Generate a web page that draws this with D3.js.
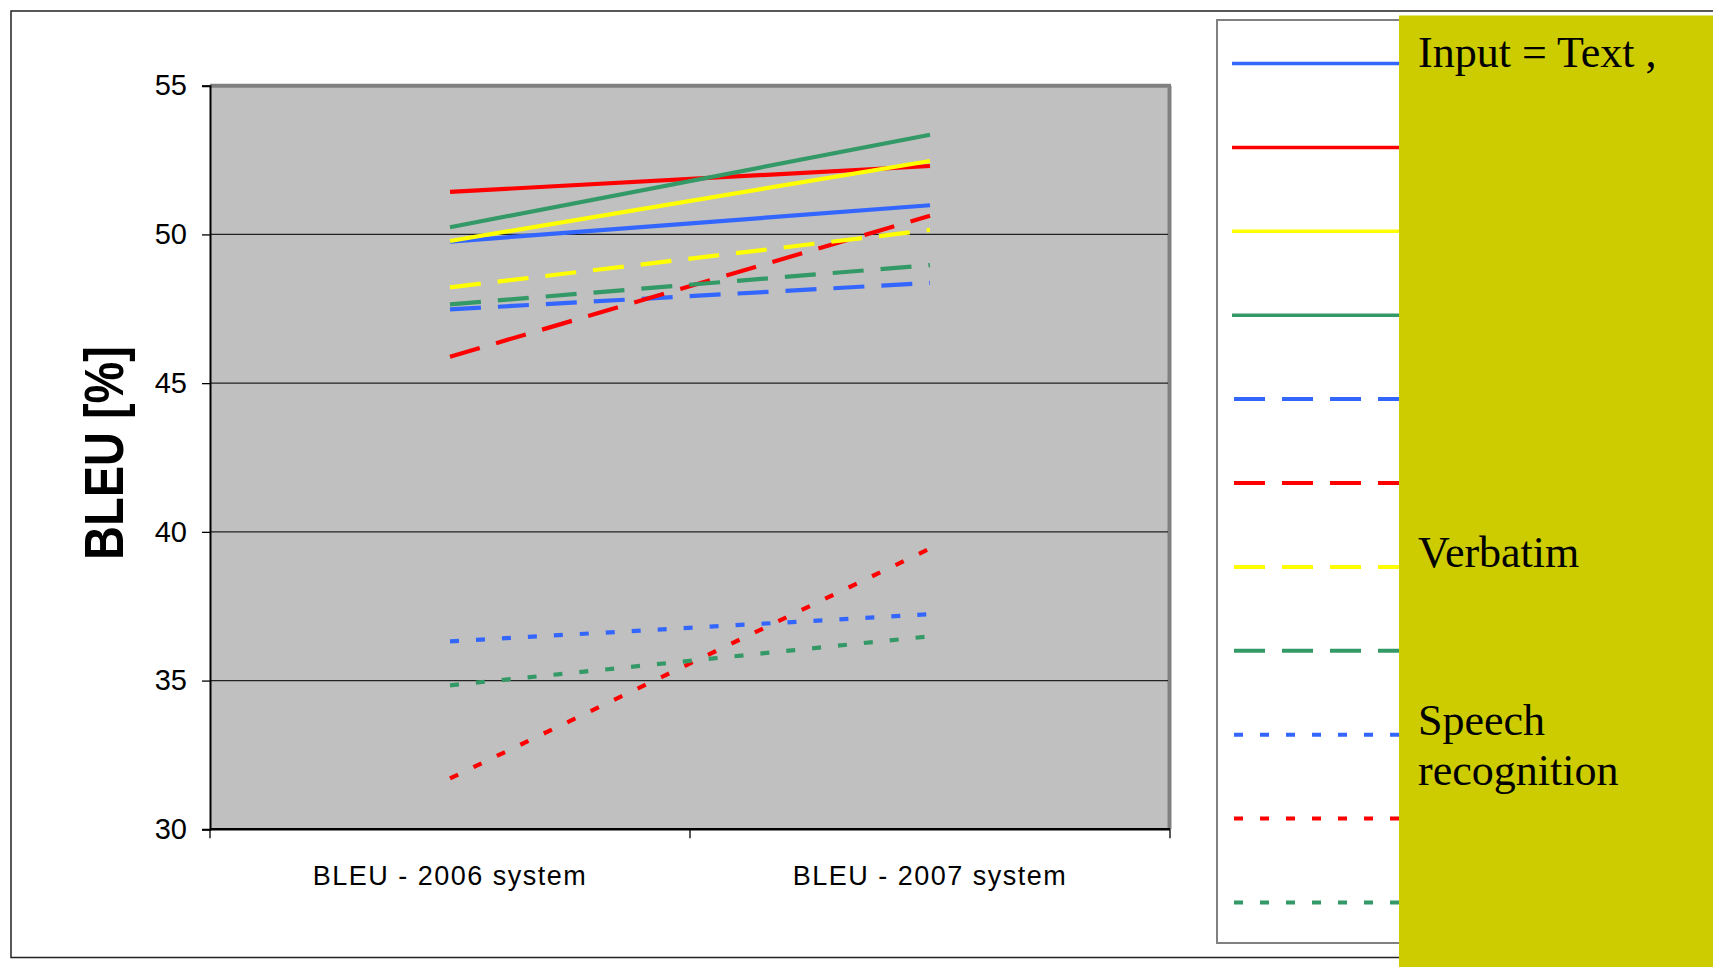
<!DOCTYPE html>
<html>
<head>
<meta charset="utf-8">
<script src="https://cdn.jsdelivr.net/npm/d3@7"></script>
<style>
  html, body { margin: 0; padding: 0; background: #fff; }
  svg { display: block; }
</style>
</head>
<body>
<svg id="chart" width="1713" height="967"></svg>
<script>
// ---- data ----
const categories = ["BLEU - 2006 system", "BLEU - 2007 system"];
const yTicks = [30, 35, 40, 45, 50, 55];
const yTitle = "BLEU [%]";

const textBlue   = [49.76, 50.98];
const textRed    = [51.43, 52.30];
const textYellow = [49.78, 52.47];
const textGreen  = [50.24, 53.35];
const verbBlue   = [47.48, 48.37];
const verbRed    = [45.89, 50.63];
const verbYellow = [48.22, 50.15];
const verbGreen  = [47.65, 48.97];
const asrBlue    = [36.32, 37.23];
const asrRed     = [31.71, 39.44];
const asrGreen   = [34.84, 36.49];

const seriesValues = [textBlue, textRed, textYellow, textGreen,
                      verbBlue, verbRed, verbYellow, verbGreen,
                      asrBlue, asrRed, asrGreen];
const boxLabels = ["Input = Text ,", "Verbatim", "Speech", "recognition"];

// ---- styles ----
const BLUE = "#3366FF", RED = "#FF0000", YELLOW = "#FFFF00", GREEN = "#339966";
const seriesColors = [BLUE, RED, YELLOW, GREEN, BLUE, RED, YELLOW, GREEN, BLUE, RED, GREEN];
const SOLID = null, DASH = "31,17", DOT = "9,17";
const seriesDash = [SOLID, SOLID, SOLID, SOLID, DASH, DASH, DASH, DASH, DOT, DOT, DOT];

const svg = d3.select("#chart");
const W = 1713, H = 967;
svg.append("rect").attr("width", W).attr("height", H).attr("fill", "#fff");

// outer chart border
svg.append("rect").attr("x", 11).attr("y", 11).attr("width", 1720).attr("height", 946.5)
  .attr("fill", "none").attr("stroke", "#222").attr("stroke-width", 1.5);

// plot area
const pl = 210, pr = 1170, pt = 85.7, pb = 829.3;
const x = d3.scaleBand().domain(categories).range([pl, pr]).paddingInner(0).paddingOuter(0);
const y = d3.scaleLinear().domain([30, 55]).range([pb, pt]);

svg.append("rect").attr("x", pl).attr("y", pt).attr("width", pr - pl).attr("height", pb - pt)
  .attr("fill", "#C0C0C0");
// gray 3d borders top and right
svg.append("line").attr("x1", pl).attr("x2", pr + 1).attr("y1", pt).attr("y2", pt)
  .attr("stroke", "#808080").attr("stroke-width", 4);
svg.append("line").attr("x1", pr - 0.5).attr("x2", pr - 0.5).attr("y1", pt).attr("y2", pb)
  .attr("stroke", "#808080").attr("stroke-width", 4);

// gridlines
svg.append("g").selectAll("line").data(yTicks.filter(t => t > 30 && t < 55)).join("line")
  .attr("x1", pl).attr("x2", pr - 2).attr("y1", d => y(d)).attr("y2", d => y(d))
  .attr("stroke", "#222").attr("stroke-width", 1.3);

// series lines
const line = d3.line()
  .x((d, i) => x(categories[i]) + x.bandwidth() / 2)
  .y(d => y(d));
svg.append("g").selectAll("path").data(seriesValues).join("path")
  .attr("d", d => line(d))
  .attr("fill", "none")
  .attr("stroke", (d, i) => seriesColors[i])
  .attr("stroke-width", 4.2)
  .attr("stroke-dasharray", (d, i) => seriesDash[i]);

// y axis
const yAxis = svg.append("g").attr("transform", `translate(${pl},0)`)
  .call(d3.axisLeft(y).tickValues(yTicks).tickSize(8).tickPadding(15).tickFormat(d3.format("d")));
yAxis.select(".domain").attr("stroke", "#000").attr("stroke-width", 2);
yAxis.selectAll(".tick line").attr("stroke", "#000").attr("stroke-width", 1.3);
yAxis.selectAll("text").attr("font-family", "'Liberation Sans', Arial, sans-serif")
  .attr("font-size", 29).attr("fill", "#000");

// x axis
const xAxisG = svg.append("g").attr("transform", `translate(0,${pb})`);
const xb = xAxisG.call(d3.axisBottom(x).tickSize(0).tickPadding(37));
xb.select(".domain").remove();
xb.selectAll("text").attr("font-family", "'Liberation Sans', Arial, sans-serif")
  .attr("font-size", 27).attr("letter-spacing", "1.5px").attr("fill", "#000");
xAxisG.append("line").attr("x1", pl).attr("x2", pr).attr("y1", 0).attr("y2", 0)
  .attr("stroke", "#000").attr("stroke-width", 2.5);
const boundaries = [pl].concat(categories.map(c => x(c) + x.bandwidth()));
xAxisG.selectAll(".bt").data(boundaries).join("line").attr("class", "bt")
  .attr("x1", d => d).attr("x2", d => d).attr("y1", 0).attr("y2", 9)
  .attr("stroke", "#000").attr("stroke-width", 1.3);

// y title
svg.append("text")
  .attr("transform", "translate(104,453) rotate(-90) scale(1,1.19)")
  .attr("text-anchor", "middle").attr("dominant-baseline", "central")
  .attr("font-family", "'Liberation Sans', Arial, sans-serif")
  .attr("font-weight", "bold").attr("font-size", 47).attr("fill", "#000")
  .text(yTitle);

// legend box
const lgX = 1217, lgY = 20;
svg.append("rect").attr("x", lgX).attr("y", lgY).attr("width", 300).attr("height", 923)
  .attr("fill", "#fff").attr("stroke", "#808080").attr("stroke-width", 2);
const rowY = i => 63.5 + i * 83.9;
svg.append("g").selectAll("line").data(seriesValues).join("line")
  .attr("x1", (d, i) => seriesDash[i] ? 1234 : 1232).attr("x2", 1400)
  .attr("y1", (d, i) => rowY(i)).attr("y2", (d, i) => rowY(i))
  .attr("stroke", (d, i) => seriesColors[i])
  .attr("stroke-width", (d, i) => seriesDash[i] ? 4 : 3.5)
  .attr("stroke-dasharray", (d, i) => seriesDash[i]);

// olive overlay box
svg.append("rect").attr("x", 1399).attr("y", 15.5).attr("width", 330).attr("height", 970)
  .attr("fill", "#CCCC00");
const labelY = [67, 567, 734.5, 785];
svg.append("g").selectAll("text").data(boxLabels).join("text")
  .attr("x", 1418).attr("y", (d, i) => labelY[i])
  .attr("font-family", "'Liberation Serif', 'Times New Roman', serif")
  .attr("font-size", 44).attr("fill", "#000")
  .text(d => d);
</script>
</body>
</html>
